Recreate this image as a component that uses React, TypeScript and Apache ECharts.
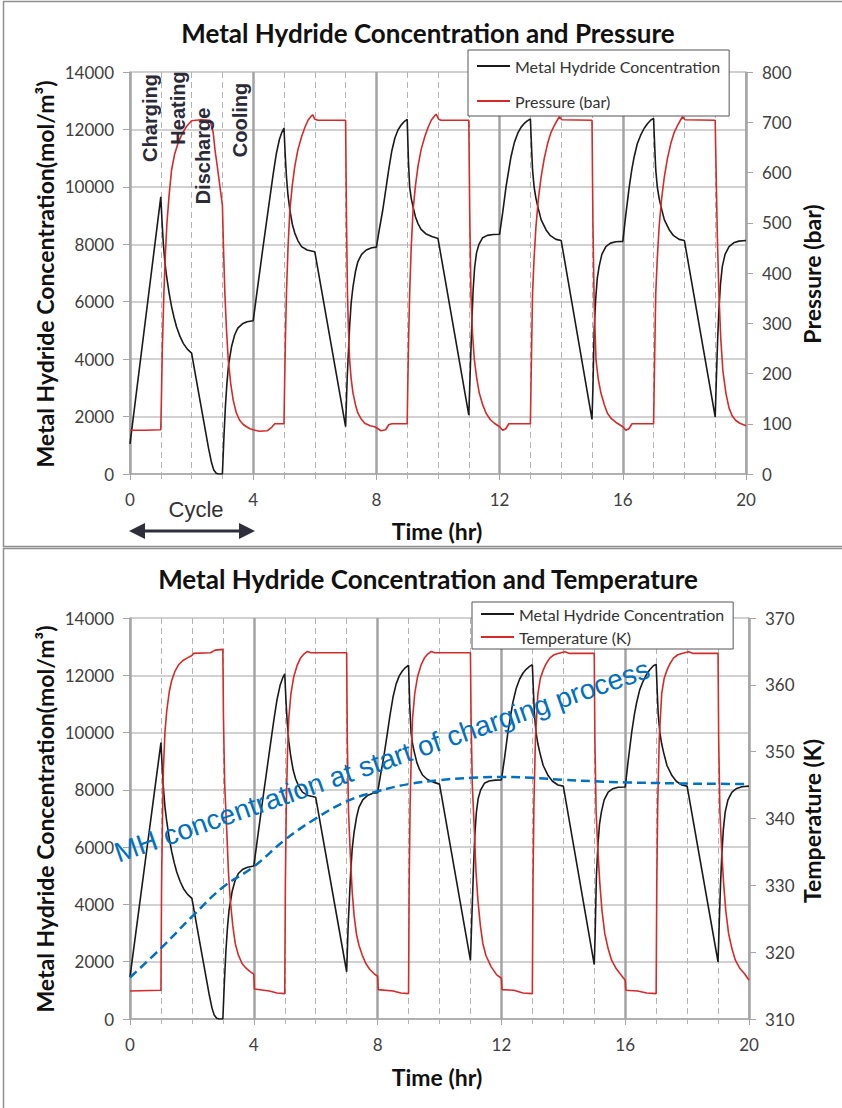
import React, { useEffect, useRef } from "react";
import * as echarts from "echarts";

// ---------- data ----------
const timeRange = [0, 20];
const timeInterval = 4;
const concentrationRange = [0, 14000];
const concentrationInterval = 2000;
const pressureRange = [0, 800];
const pressureInterval = 100;
const temperatureRange = [310, 370];
const temperatureInterval = 10;

const concentrationStartPressureRun = 1050;
const concentrationStartTemperatureRun = 1470;

// Metal hydride concentration (mol/m3) after t = 0, [time (hr), value]
const concentration: [number, number][] = [
  [1.0, 9650],
  [1.04, 8800], [1.08, 8050], [1.13, 7400], [1.19, 6870], [1.27, 6300], [1.35, 5830],
  [1.43, 5450], [1.51, 5130], [1.62, 4800], [1.73, 4550], [1.86, 4350], [2.0, 4210],
  [2.2, 3000], [2.4, 1800], [2.55, 900], [2.65, 380], [2.72, 140], [2.8, 30], [2.88, 0], [3.0, 0],
  [3.05, 1300], [3.1, 2400], [3.15, 3200], [3.2, 3800], [3.3, 4450], [3.4, 4850], [3.5, 5080],
  [3.65, 5230], [3.8, 5300], [4.0, 5340],
  [4.1, 6150], [4.3, 7750], [4.5, 9300], [4.65, 10450], [4.75, 11150], [4.85, 11650], [4.93, 11900], [5.0, 12050],
  [5.04, 11100], [5.08, 10350], [5.13, 9700], [5.19, 9200], [5.27, 8700], [5.35, 8390], [5.45, 8130],
  [5.57, 7920], [5.75, 7800], [6.0, 7740],
  [7.0, 1650],
  [7.05, 3300], [7.1, 4450], [7.13, 5130], [7.18, 5950], [7.24, 6520], [7.32, 7050], [7.4, 7400],
  [7.52, 7650], [7.67, 7800], [7.85, 7880], [8.0, 7900],
  [8.1, 8550], [8.2, 9150], [8.3, 9870], [8.4, 10600], [8.5, 11250], [8.6, 11700], [8.7, 11980],
  [8.8, 12150], [8.9, 12270], [9.0, 12350],
  [9.04, 10900], [9.08, 10000], [9.13, 9600], [9.19, 9300], [9.27, 8950], [9.35, 8720], [9.45, 8520],
  [9.6, 8370], [9.8, 8270], [10.0, 8200],
  [11.0, 2050],
  [11.05, 3700], [11.1, 5300], [11.14, 6400], [11.19, 7200], [11.25, 7700], [11.33, 8000], [11.45, 8230],
  [11.6, 8310], [11.8, 8340], [12.0, 8350],
  [12.1, 9100], [12.21, 10010], [12.3, 10600], [12.37, 11050], [12.48, 11550], [12.59, 11870],
  [12.7, 12080], [12.8, 12210], [12.9, 12300], [13.0, 12370],
  [13.04, 11300], [13.07, 10590], [13.12, 10000], [13.18, 9600], [13.24, 9310], [13.35, 8850],
  [13.51, 8500], [13.65, 8300], [13.83, 8170], [14.0, 8130],
  [15.0, 1900],
  [15.03, 3000], [15.07, 5000], [15.12, 6100], [15.17, 6800], [15.23, 7220], [15.32, 7650],
  [15.45, 7920], [15.6, 8040], [15.77, 8090], [16.0, 8100],
  [16.1, 9050], [16.21, 10010], [16.3, 10650], [16.37, 11050], [16.47, 11500], [16.58, 11800],
  [16.7, 12050], [16.8, 12200], [16.91, 12330], [17.0, 12380],
  [17.04, 11300], [17.07, 10590], [17.12, 10000], [17.18, 9600], [17.24, 9310], [17.35, 8850],
  [17.51, 8500], [17.65, 8300], [17.83, 8170], [18.0, 8130],
  [19.0, 1990],
  [19.04, 3400], [19.08, 4700], [19.12, 5710], [19.17, 6600], [19.23, 7220], [19.32, 7650],
  [19.45, 7920], [19.6, 8050], [19.77, 8110], [20.0, 8130],
];

// Pressure (bar), [time (hr), value]
const pressure: [number, number][] = [
  [0, 87], [0.5, 87], [1.0, 88],
  [1.02, 150], [1.05, 250], [1.1, 360], [1.15, 440], [1.2, 500], [1.27, 555], [1.35, 605], [1.45, 637],
  [1.57, 660], [1.7, 678], [1.84, 692], [2.0, 703], [2.3, 705], [2.6, 704],
  [2.7, 680], [2.76, 645], [2.85, 605], [2.92, 572], [3.0, 535],
  [3.04, 440], [3.08, 360], [3.13, 290], [3.19, 227], [3.27, 180], [3.35, 147], [3.45, 122], [3.56, 107],
  [3.67, 99], [3.78, 94], [3.9, 90], [4.0, 88],
  [4.2, 85], [4.45, 86], [4.6, 93], [4.7, 100], [5.0, 100],
  [5.02, 180], [5.05, 280], [5.08, 360], [5.13, 450], [5.19, 525], [5.27, 575], [5.35, 612], [5.45, 645],
  [5.57, 671], [5.68, 690], [5.78, 704], [5.88, 712], [5.93, 715], [6.0, 706], [6.1, 704], [7.0, 704],
  [7.03, 500], [7.06, 360], [7.09, 290], [7.13, 227], [7.18, 190], [7.24, 161], [7.32, 138], [7.4, 121],
  [7.5, 110], [7.62, 101], [7.8, 96], [7.94, 94],
  [8.0, 92], [8.15, 86], [8.3, 88], [8.4, 98], [8.5, 100], [9.0, 100],
  [9.02, 180], [9.05, 280], [9.08, 360], [9.13, 450], [9.19, 525], [9.27, 575], [9.35, 612], [9.45, 645],
  [9.57, 671], [9.68, 690], [9.78, 704], [9.88, 712], [9.94, 716], [10.02, 706], [10.1, 704], [11.0, 704],
  [11.03, 520], [11.07, 360], [11.12, 280], [11.18, 227], [11.26, 190], [11.34, 161], [11.45, 138],
  [11.56, 121], [11.7, 108], [11.83, 101], [12.0, 94],
  [12.1, 87], [12.2, 90], [12.3, 100], [13.0, 100],
  [13.02, 180], [13.05, 290], [13.07, 360], [13.12, 430], [13.18, 492], [13.26, 548], [13.35, 592],
  [13.45, 628], [13.56, 658], [13.67, 680], [13.78, 694], [13.88, 705], [13.94, 711], [14.02, 705], [15.0, 704],
  [15.03, 500], [15.07, 340], [15.13, 227], [15.2, 190], [15.29, 161], [15.4, 138], [15.5, 121],
  [15.63, 110], [15.77, 103], [16.0, 94],
  [16.1, 87], [16.2, 90], [16.3, 100], [17.0, 100],
  [17.02, 180], [17.05, 290], [17.07, 360], [17.12, 430], [17.18, 492], [17.26, 548], [17.35, 592],
  [17.45, 628], [17.56, 658], [17.67, 680], [17.78, 694], [17.88, 705], [17.94, 711], [18.02, 705], [19.0, 704],
  [19.03, 600], [19.07, 470], [19.12, 360], [19.18, 270], [19.25, 205], [19.35, 160], [19.45, 131],
  [19.55, 116], [19.66, 107], [19.8, 101], [20.0, 96],
];

// Temperature (K), [time (hr), value]
const temperature: [number, number][] = [
  [0, 314.2], [1.0, 314.3],
  [1.02, 330], [1.05, 340], [1.08, 347.5], [1.13, 353], [1.19, 356.2], [1.27, 359], [1.35, 360.7],
  [1.45, 362], [1.57, 363], [1.7, 363.6], [1.84, 364], [2.0, 364.4], [2.05, 364.7], [2.6, 364.8],
  [2.75, 365.2], [3.0, 365.3],
  [3.02, 355], [3.06, 345], [3.13, 337.8], [3.18, 332], [3.24, 327.8], [3.32, 324], [3.4, 321.3],
  [3.5, 319.6], [3.62, 318.3], [3.75, 317.6], [3.88, 317.1], [4.0, 316.7],
  [4.02, 314.5], [4.5, 314.2], [4.75, 313.9], [5.0, 313.8],
  [5.02, 330], [5.05, 342], [5.09, 350], [5.13, 355], [5.2, 358.7], [5.29, 361.2], [5.4, 362.9],
  [5.51, 364], [5.62, 364.6], [5.73, 365], [5.85, 364.8], [7.0, 364.8],
  [7.02, 352], [7.06, 341], [7.13, 333.5], [7.18, 329], [7.24, 325.5], [7.32, 322.6], [7.4, 321],
  [7.5, 319.6], [7.62, 318.3], [7.75, 317.4], [7.88, 316.8], [8.0, 316.4],
  [8.02, 314.4], [8.5, 314.2], [8.75, 313.9], [9.0, 313.8],
  [9.02, 330], [9.05, 342], [9.09, 350], [9.13, 355], [9.2, 358.7], [9.29, 361.2], [9.4, 362.9],
  [9.51, 364], [9.62, 364.6], [9.73, 365], [9.85, 364.8], [11.0, 364.8],
  [11.02, 355], [11.06, 345], [11.13, 337.8], [11.18, 332], [11.24, 327.8], [11.32, 324], [11.4, 321.3],
  [11.5, 319.5], [11.67, 317.8], [11.85, 316.6], [12.0, 316.1],
  [12.02, 314.4], [12.4, 314.3], [12.7, 313.9], [13.0, 313.8],
  [13.02, 330], [13.05, 342], [13.1, 352], [13.18, 358.7], [13.26, 361], [13.35, 362.2], [13.45, 363.2],
  [13.56, 364], [13.7, 364.5], [13.83, 364.7], [14.05, 364.95], [14.2, 364.7], [15.0, 364.7],
  [15.02, 352], [15.06, 341], [15.12, 335], [15.18, 330.3], [15.25, 326.2], [15.34, 322.8],
  [15.45, 320.5], [15.56, 318.8], [15.7, 317.6], [15.83, 316.8], [16.0, 315.8],
  [16.02, 314.3], [16.4, 314.2], [16.7, 313.9], [17.0, 313.8],
  [17.02, 330], [17.05, 342], [17.1, 352], [17.18, 358.7], [17.26, 361], [17.35, 362.2], [17.45, 363.2],
  [17.56, 364], [17.7, 364.5], [17.83, 364.7], [18.05, 364.95], [18.2, 364.7], [19.0, 364.7],
  [19.02, 352], [19.06, 341], [19.12, 335], [19.18, 330.3], [19.25, 326.2], [19.34, 322.8],
  [19.45, 320.5], [19.56, 318.8], [19.7, 317.6], [19.85, 316.8], [20.0, 315.8],
];

// Trend of MH concentration at start of charging (mol/m3), [time (hr), value]
const chargingStartTrend: [number, number][] = [
  [0, 1450], [1, 2470], [2, 3570], [3, 4600], [4, 5320], [5, 6250], [6, 7000], [7, 7600],
  [8, 7950], [9, 8200], [10, 8340], [11, 8420], [12, 8450], [13, 8420], [14, 8350], [15, 8300],
  [16, 8260], [17, 8240], [18, 8220], [19, 8210], [20, 8200],
];

const phaseLabels = ["Charging", "Heating", "Discharge", "Cooling"];
const seriesNames = ["Metal Hydride Concentration", "Pressure (bar)", "Temperature (K)"];

// ---------- styles ----------
const CALIBRI = "Lato, 'Open Sans', sans-serif";
const ARIAL = "'Liberation Sans', Arial, sans-serif";
const BLACK = "#1a1a1a";
const RED = "#d42a2a";
const BLUE = "#0070C0";
const GRID_H = "#c2c2c2";
const GRID_V = "#a3a3a3";
const LEGEND_ICON = "path://M0,0L33,0L33,2L0,2Z";

function xAxisCfg(gridIndex: number) {
  return {
    type: "value",
    gridIndex,
    min: timeRange[0],
    max: timeRange[1],
    interval: timeInterval,
    axisLine: { show: true, lineStyle: { color: "#a6a6a6", width: 1.5 } },
    axisTick: { show: true, length: 6, lineStyle: { color: "#a6a6a6" } },
    minorTick: { show: true, splitNumber: 4, length: 5, lineStyle: { color: "#b5b5b5" } },
    axisLabel: { fontFamily: CALIBRI, fontSize: 17, color: "#404040", margin: 17, formatter: (v: number) => String(v) },
    splitLine: { show: true, lineStyle: { color: GRID_V, width: 2.5 } },
    minorSplitLine: { show: true, lineStyle: { color: "#b3b3b3", width: 1, type: [6, 4] } },
  };
}

function yAxisCfg(gridIndex: number, range: number[], interval: number, position: string, split: boolean) {
  return {
    type: "value",
    gridIndex,
    position,
    min: range[0],
    max: range[1],
    interval,
    axisLine: { show: true, lineStyle: { color: "#a6a6a6", width: 1.5 } },
    axisTick: { show: true, length: 7, lineStyle: { color: "#a6a6a6" } },
    axisLabel: { fontFamily: CALIBRI, fontSize: 17, color: "#404040", margin: 16, formatter: (v: number) => String(v) },
    splitLine: { show: split, lineStyle: { color: GRID_H, width: 1.5 } },
  };
}

function lineSeries(name: string, data: [number, number][], color: string, xi: number, yi: number, extra: any = {}) {
  return {
    type: "line",
    name,
    data,
    xAxisIndex: xi,
    yAxisIndex: yi,
    symbol: "none",
    showSymbol: false,
    lineStyle: { color, width: 1.6 },
    itemStyle: { color },
    emphasis: { disabled: true },
    ...extra,
  };
}

function legendCfg(left: number, top: number, names: string[], padding: number[], gap: number) {
  return {
    left,
    top,
    orient: "vertical",
    data: names.map((n) => ({ name: n, icon: LEGEND_ICON })),
    selectedMode: false,
    backgroundColor: "#ffffff",
    borderColor: "#555555",
    borderWidth: 1,
    borderRadius: 0,
    padding,
    itemGap: gap,
    itemWidth: 33,
    itemHeight: 14,
    textStyle: { fontFamily: CALIBRI, fontSize: 16, color: "#333333" },
  };
}

function vText(text: string, x: number, y: number, font: string, fill: string) {
  return {
    type: "text",
    x,
    y,
    rotation: Math.PI / 2,
    style: { text, font, fill, align: "center", verticalAlign: "middle" },
    z: 10,
  };
}

function hText(text: string, x: number, y: number, font: string, fill: string) {
  return {
    type: "text",
    x,
    y,
    style: { text, font, fill, align: "center", verticalAlign: "middle" },
    z: 10,
  };
}

export default function App() {
  const ref = useRef<HTMLDivElement>(null);

  useEffect(() => {
    if (!ref.current) return;
    const chart = echarts.init(ref.current, null, { renderer: "svg" });

    const topConc: [number, number][] = [[0, concentrationStartPressureRun], ...concentration];
    const bottomConc: [number, number][] = [[0, concentrationStartTemperatureRun], ...concentration];

    const labelFont = `bold 20px ${ARIAL}`;
    const titleFont = `bold 26px ${CALIBRI}`;
    const axisNameFont = `bold 23px ${CALIBRI}`;
    const angle = (19.2 * Math.PI) / 180;

    const option: any = {
      animation: false,
      backgroundColor: "#ffffff",
      grid: [
        { left: 130, top: 72, width: 616, height: 402, containLabel: false },
        { left: 130, top: 618, width: 619, height: 401, containLabel: false },
      ],
      xAxis: [xAxisCfg(0), xAxisCfg(1)],
      yAxis: [
        yAxisCfg(0, concentrationRange, concentrationInterval, "left", true),
        yAxisCfg(0, pressureRange, pressureInterval, "right", false),
        yAxisCfg(1, concentrationRange, concentrationInterval, "left", true),
        yAxisCfg(1, temperatureRange, temperatureInterval, "right", false),
      ],
      legend: [
        legendCfg(468, 50, [seriesNames[0], seriesNames[1]], [8, 9, 7, 9], 19),
        legendCfg(472, 602, [seriesNames[0], seriesNames[2]], [4, 9, 4, 9], 7),
      ],
      series: [
        lineSeries(seriesNames[0], topConc, BLACK, 0, 0),
        lineSeries(seriesNames[1], pressure, RED, 0, 1),
        lineSeries(seriesNames[0], bottomConc, BLACK, 1, 2),
        lineSeries(seriesNames[2], temperature, RED, 1, 3),
        lineSeries("MH concentration at start of charging process", chargingStartTrend, BLUE, 1, 2, {
          smooth: 0.4,
          lineStyle: { color: BLUE, width: 2.5, type: [9, 5] },
          z: 4,
        }),
      ],
      graphic: [
        // panel frames
        { type: "rect", shape: { x: 3.5, y: 1.5, width: 860, height: 545 }, style: { fill: "none", stroke: "#8f8f8f", lineWidth: 1.5 }, z: 0, silent: true },
        { type: "rect", shape: { x: 3.5, y: 548.5, width: 860, height: 580 }, style: { fill: "none", stroke: "#8f8f8f", lineWidth: 1.5 }, z: 0, silent: true },
        // titles
        hText("Metal Hydride Concentration and Pressure", 428, 33, titleFont, "#111111"),
        hText("Metal Hydride Concentration and Temperature", 428, 579, titleFont, "#111111"),
        // axis names
        vText("Metal Hydride Concentration(mol/m³)", 45, 274, axisNameFont, "#111111"),
        vText("Pressure (bar)", 812, 274, axisNameFont, "#111111"),
        hText("Time (hr)", 437, 531, `bold 23px ${CALIBRI}`, "#111111"),
        vText("Metal Hydride Concentration(mol/m³)", 45, 819, axisNameFont, "#111111"),
        vText("Temperature (K)", 812, 821, axisNameFont, "#111111"),
        hText("Time (hr)", 437, 1077, `bold 23px ${CALIBRI}`, "#111111"),
        // phase labels
        vText(phaseLabels[0], 150, 118, labelFont, "#2b2b38"),
        vText(phaseLabels[1], 178, 108, labelFont, "#2b2b38"),
        vText(phaseLabels[2], 203, 156, labelFont, "#2b2b38"),
        vText(phaseLabels[3], 240, 120, labelFont, "#2b2b38"),
        // cycle arrow
        hText("Cycle", 196, 509, `22px ${ARIAL}`, "#333333"),
        { type: "line", shape: { x1: 140, y1: 531, x2: 243, y2: 531 }, style: { stroke: "#2f2f3c", lineWidth: 3 }, z: 10 },
        { type: "polygon", shape: { points: [[129, 531], [145, 523], [145, 539]] }, style: { fill: "#2f2f3c" }, z: 10 },
        { type: "polygon", shape: { points: [[255, 531], [239, 523], [239, 539]] }, style: { fill: "#2f2f3c" }, z: 10 },
        // blue annotation
        {
          type: "text",
          x: 120,
          y: 867,
          rotation: angle,
          style: { text: "MH concentration at start of charging process", font: `28px ${ARIAL}`, fill: BLUE, align: "left", verticalAlign: "bottom" },
          z: 10,
        },
      ],
    };

    chart.setOption(option);
    return () => chart.dispose();
  }, []);

  return (
    <div
      ref={ref}
      style={{ position: "absolute", left: 0, top: 0, width: 842, height: 1108, background: "#fff" }}
    />
  );
}
